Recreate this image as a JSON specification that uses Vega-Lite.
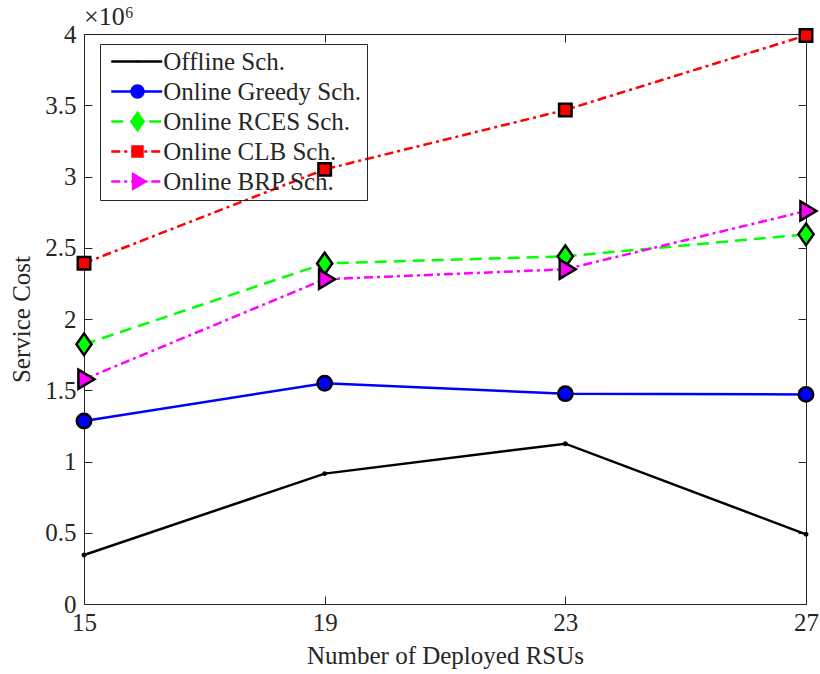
{
  "$schema": "https://vega.github.io/schema/vega-lite/v6.json",
  "width": 722,
  "height": 570,
  "autosize": {"type": "none"},
  "padding": {"left": 84, "top": 34, "right": 14, "bottom": 70},
  "background": "white",
  "config": {
    "font": "Liberation Serif",
    "view": {"stroke": "#262626", "strokeWidth": 1}
  },
  "title": {
    "text": "×10⁶",
    "anchor": "start",
    "frame": "group",
    "fontSize": 26,
    "fontWeight": "normal",
    "color": "#262626",
    "offset": 9,
    "dy": 17
  },
  "data": {
    "values": [
      {"series": "Offline Sch.", "rsus": 15, "cost": 344000},
      {"series": "Offline Sch.", "rsus": 19, "cost": 915000},
      {"series": "Offline Sch.", "rsus": 23, "cost": 1125000},
      {"series": "Offline Sch.", "rsus": 27, "cost": 489000},
      {"series": "Online Greedy Sch.", "rsus": 15, "cost": 1284000},
      {"series": "Online Greedy Sch.", "rsus": 19, "cost": 1549000},
      {"series": "Online Greedy Sch.", "rsus": 23, "cost": 1476000},
      {"series": "Online Greedy Sch.", "rsus": 27, "cost": 1471000},
      {"series": "Online RCES Sch.", "rsus": 15, "cost": 1822000},
      {"series": "Online RCES Sch.", "rsus": 19, "cost": 2390000},
      {"series": "Online RCES Sch.", "rsus": 23, "cost": 2440000},
      {"series": "Online RCES Sch.", "rsus": 27, "cost": 2594000},
      {"series": "Online CLB Sch.", "rsus": 15, "cost": 2391000},
      {"series": "Online CLB Sch.", "rsus": 19, "cost": 3050000},
      {"series": "Online CLB Sch.", "rsus": 23, "cost": 3467000},
      {"series": "Online CLB Sch.", "rsus": 27, "cost": 3990000},
      {"series": "Online BRP Sch.", "rsus": 15, "cost": 1577000},
      {"series": "Online BRP Sch.", "rsus": 19, "cost": 2279000},
      {"series": "Online BRP Sch.", "rsus": 23, "cost": 2349000},
      {"series": "Online BRP Sch.", "rsus": 27, "cost": 2758000}
    ]
  },
  "layer": [
    {
      "mark": {"type": "line", "strokeWidth": 2.5},
      "encoding": {
        "x": {
          "field": "rsus",
          "type": "quantitative",
          "scale": {"domain": [15, 27], "nice": false, "zero": false},
          "axis": {
            "orient": "bottom",
            "values": [15, 19, 23, 27],
            "format": "d",
            "grid": false,
            "domain": false,
            "tickSize": -8,
            "tickColor": "#262626",
            "labelFontSize": 25,
            "labelColor": "#262626",
            "labelPadding": 14,
            "labelFlush": false,
            "labelBound": false,
            "title": "Number of Deployed RSUs",
            "titleFontSize": 25,
            "titleFontWeight": "normal",
            "titleColor": "#262626",
            "titlePadding": 8
          }
        },
        "y": {
          "field": "cost",
          "type": "quantitative",
          "scale": {"domain": [0, 4000000], "nice": false},
          "axis": {
            "orient": "left",
            "values": [0, 500000, 1000000, 1500000, 2000000, 2500000, 3000000, 3500000, 4000000],
            "labelExpr": "datum.value / 1000000 + ''",
            "grid": false,
            "domain": false,
            "tickSize": -8,
            "tickColor": "#262626",
            "labelFontSize": 25,
            "labelColor": "#262626",
            "labelPadding": 16,
            "labelFlush": false,
            "labelBound": false,
            "title": "Service Cost",
            "titleFontSize": 25,
            "titleFontWeight": "normal",
            "titleColor": "#262626",
            "titlePadding": 10
          }
        },
        "color": {
          "field": "series",
          "type": "nominal",
          "scale": {
            "domain": ["Offline Sch.", "Online Greedy Sch.", "Online RCES Sch.", "Online CLB Sch.", "Online BRP Sch."],
            "range": ["#000000", "#0000ff", "#00ff00", "#ff0000", "#ff00ff"]
          },
          "legend": {
            "title": null,
            "orient": "none",
            "legendX": 16,
            "legendY": 10,
            "padding": 5,
            "strokeColor": "#262626",
            "symbolType": "M-3,0H3",
            "symbolSize": 289,
            "symbolStrokeWidth": 2.5,
            "symbolOpacity": 1,
            "symbolOffset": 19.25,
            "clipHeight": 25,
            "labelFontSize": 25,
            "labelColor": "#262626",
            "labelOffset": 14,
            "labelLimit": 400,
            "rowPadding": 4
          }
        },
        "strokeDash": {
          "field": "series",
          "type": "nominal",
          "scale": {
            "domain": ["Offline Sch.", "Online Greedy Sch.", "Online RCES Sch.", "Online CLB Sch.", "Online BRP Sch."],
            "range": [[1000, 0], [1000, 0], [12, 7], [9, 4, 3, 4], [9, 4, 3, 4]]
          },
          "legend": {
            "title": null,
            "orient": "none",
            "legendX": 16,
            "legendY": 10,
            "padding": 5,
            "strokeColor": "#262626",
            "symbolType": "M-3,0H3",
            "symbolSize": 289,
            "symbolStrokeWidth": 2.5,
            "symbolOpacity": 1,
            "symbolOffset": 19.25,
            "clipHeight": 25,
            "labelFontSize": 25,
            "labelColor": "#262626",
            "labelOffset": 14,
            "labelLimit": 400,
            "rowPadding": 4
          }
        }
      }
    },
    {
      "mark": {"type": "point", "filled": true, "stroke": "#000000", "strokeWidth": 2.5, "size": 256, "opacity": 1},
      "encoding": {
        "x": {
          "field": "rsus",
          "type": "quantitative",
          "axis": {
            "orient": "top",
            "values": [15, 19, 23, 27],
            "labels": false,
            "grid": false,
            "domain": false,
            "tickSize": -8,
            "tickColor": "#262626",
            "title": null
          }
        },
        "y": {
          "field": "cost",
          "type": "quantitative",
          "axis": {
            "orient": "right",
            "values": [0, 500000, 1000000, 1500000, 2000000, 2500000, 3000000, 3500000, 4000000],
            "labels": false,
            "grid": false,
            "domain": false,
            "tickSize": -8,
            "tickColor": "#262626",
            "title": null
          }
        },
        "fill": {
          "field": "series",
          "type": "nominal",
          "sort": null,
          "scale": {"range": ["#000000", "#0000ff", "#00ff00", "#ff0000", "#ff00ff"]},
          "legend": {
            "title": null,
            "orient": "none",
            "legendX": 16,
            "legendY": 10,
            "padding": 5,
            "symbolSize": 256,
            "symbolStrokeWidth": 2.5,
            "symbolStrokeColor": "#000000",
            "symbolOpacity": 1,
            "symbolOffset": 20,
            "clipHeight": 25,
            "labelFontSize": 25,
            "labelExpr": "''",
            "labelOpacity": 0,
            "labelOffset": 2,
            "rowPadding": 4
          }
        },
        "shape": {
          "field": "series",
          "type": "nominal",
          "sort": null,
          "scale": {
            "range": [
              "M-0.15,0A0.15,0.15 0 1,1 0.15,0A0.15,0.15 0 1,1 -0.15,0Z",
              "M-0.9,0A0.9,0.9 0 1,1 0.9,0A0.9,0.9 0 1,1 -0.9,0Z",
              "M0,-1.35L0.95,0L0,1.35L-0.95,0Z",
              "M-0.78,-0.78H0.78V0.78H-0.78Z",
              "M-0.7,-1.2L1.3,0L-0.7,1.2Z"
            ]
          },
          "legend": {
            "title": null,
            "orient": "none",
            "legendX": 16,
            "legendY": 10,
            "padding": 5,
            "symbolSize": 256,
            "symbolStrokeWidth": 2.5,
            "symbolStrokeColor": "#000000",
            "symbolOpacity": 1,
            "symbolOffset": 20,
            "clipHeight": 25,
            "labelFontSize": 25,
            "labelExpr": "''",
            "labelOpacity": 0,
            "labelOffset": 2,
            "rowPadding": 4
          }
        }
      }
    }
  ],
  "resolve": {"axis": {"x": "independent", "y": "independent"}}
}
